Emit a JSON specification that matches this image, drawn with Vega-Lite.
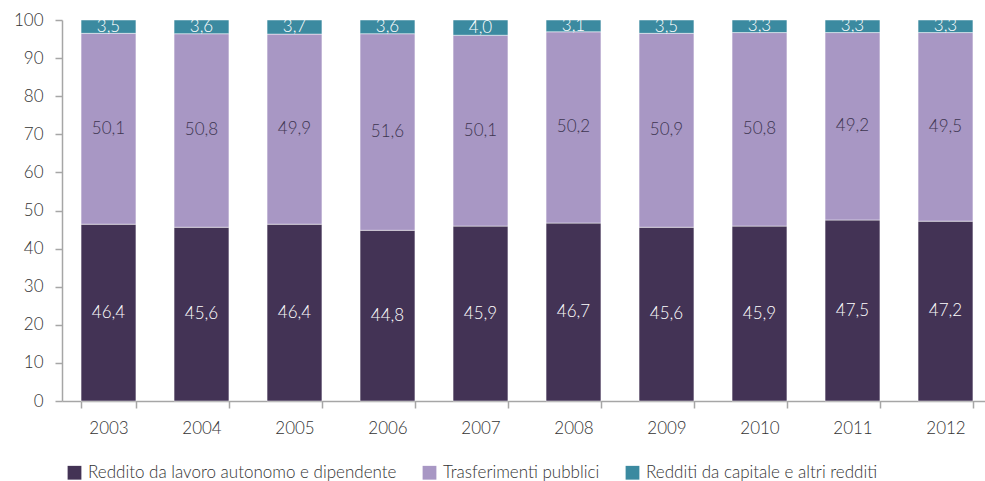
{
  "$schema": "https://vega.github.io/schema/vega-lite/v6.json",
  "width": 930,
  "height": 381,
  "autosize": {"type": "none"},
  "padding": {"left": 62, "top": 20, "right": 0, "bottom": 80},
  "config": {
    "view": {"stroke": null},
    "font": "Lato",
    "axis": {"labelFontWeight": 300},
    "axisY": {
      "title": null,
      "values": [0, 10, 20, 30, 40, 50, 60, 70, 80, 90, 100],
      "labelOverlap": false,
      "grid": false,
      "labelFontSize": 17,
      "labelColor": "#333333",
      "labelPadding": 12,
      "tickSize": 7,
      "tickColor": "#a6a6a6",
      "domainColor": "#a6a6a6",
      "tickWidth": 1.5,
      "domainWidth": 1.5
    },
    "legend": {"labelFontWeight": 300},
    "locale": {"number": {"decimal": ",", "thousands": ".", "grouping": [3], "currency": ["", " €"]}}
  },
  "data": {
    "values": [
      {"year": "2003", "series": "Reddito da lavoro autonomo e dipendente", "order": 1, "value": 46.4},
      {"year": "2003", "series": "Trasferimenti pubblici", "order": 2, "value": 50.1},
      {"year": "2003", "series": "Redditi da capitale e altri redditi", "order": 3, "value": 3.5},
      {"year": "2004", "series": "Reddito da lavoro autonomo e dipendente", "order": 1, "value": 45.6},
      {"year": "2004", "series": "Trasferimenti pubblici", "order": 2, "value": 50.8},
      {"year": "2004", "series": "Redditi da capitale e altri redditi", "order": 3, "value": 3.6},
      {"year": "2005", "series": "Reddito da lavoro autonomo e dipendente", "order": 1, "value": 46.4},
      {"year": "2005", "series": "Trasferimenti pubblici", "order": 2, "value": 49.9},
      {"year": "2005", "series": "Redditi da capitale e altri redditi", "order": 3, "value": 3.7},
      {"year": "2006", "series": "Reddito da lavoro autonomo e dipendente", "order": 1, "value": 44.8},
      {"year": "2006", "series": "Trasferimenti pubblici", "order": 2, "value": 51.6},
      {"year": "2006", "series": "Redditi da capitale e altri redditi", "order": 3, "value": 3.6},
      {"year": "2007", "series": "Reddito da lavoro autonomo e dipendente", "order": 1, "value": 45.9},
      {"year": "2007", "series": "Trasferimenti pubblici", "order": 2, "value": 50.1},
      {"year": "2007", "series": "Redditi da capitale e altri redditi", "order": 3, "value": 4.0},
      {"year": "2008", "series": "Reddito da lavoro autonomo e dipendente", "order": 1, "value": 46.7},
      {"year": "2008", "series": "Trasferimenti pubblici", "order": 2, "value": 50.2},
      {"year": "2008", "series": "Redditi da capitale e altri redditi", "order": 3, "value": 3.1},
      {"year": "2009", "series": "Reddito da lavoro autonomo e dipendente", "order": 1, "value": 45.6},
      {"year": "2009", "series": "Trasferimenti pubblici", "order": 2, "value": 50.9},
      {"year": "2009", "series": "Redditi da capitale e altri redditi", "order": 3, "value": 3.5},
      {"year": "2010", "series": "Reddito da lavoro autonomo e dipendente", "order": 1, "value": 45.9},
      {"year": "2010", "series": "Trasferimenti pubblici", "order": 2, "value": 50.8},
      {"year": "2010", "series": "Redditi da capitale e altri redditi", "order": 3, "value": 3.3},
      {"year": "2011", "series": "Reddito da lavoro autonomo e dipendente", "order": 1, "value": 47.5},
      {"year": "2011", "series": "Trasferimenti pubblici", "order": 2, "value": 49.2},
      {"year": "2011", "series": "Redditi da capitale e altri redditi", "order": 3, "value": 3.3},
      {"year": "2012", "series": "Reddito da lavoro autonomo e dipendente", "order": 1, "value": 47.2},
      {"year": "2012", "series": "Trasferimenti pubblici", "order": 2, "value": 49.5},
      {"year": "2012", "series": "Redditi da capitale e altri redditi", "order": 3, "value": 3.3}
    ]
  },
  "transform": [
    {"stack": "value", "groupby": ["year"], "sort": [{"field": "order", "order": "ascending"}], "as": ["y0", "y1"]},
    {"calculate": "(datum.y0 + datum.y1) / 2", "as": "mid"}
  ],
  "encoding": {
    "x": {
      "field": "year",
      "type": "nominal",
      "scale": {"paddingInner": 0.41, "paddingOuter": 0.205},
      "axis": {
        "title": null,
        "labelAngle": 0,
        "labelFontSize": 17,
        "labelColor": "#333333",
        "labelPadding": 12,
        "tickBand": "extent",
        "tickSize": 7,
        "tickColor": "#a6a6a6",
        "domainColor": "#a6a6a6",
        "tickWidth": 1.5,
        "domainWidth": 1.5
      }
    }
  },
  "layer": [
    {
      "mark": {"type": "bar", "stroke": "#ffffff", "strokeWidth": 0.8, "strokeOpacity": 0.6},
      "encoding": {
        "y": {
          "field": "y0",
          "type": "quantitative",
          "scale": {"domain": [0, 100], "nice": false},
          "axis": {"values": [0, 10, 20, 30, 40, 50, 60, 70, 80, 90, 100], "labelOverlap": false}
        },
        "y2": {"field": "y1"},
        "color": {
          "field": "series",
          "type": "nominal",
          "sort": ["Reddito da lavoro autonomo e dipendente", "Trasferimenti pubblici", "Redditi da capitale e altri redditi"],
          "scale": {
            "domain": ["Reddito da lavoro autonomo e dipendente", "Trasferimenti pubblici", "Redditi da capitale e altri redditi"],
            "range": ["#433355", "#a897c4", "#3b8aa0"]
          },
          "legend": {
            "title": null,
            "orient": "none",
            "direction": "horizontal",
            "legendX": 4,
            "legendY": 444,
            "symbolType": "square",
            "symbolSize": 190,
            "symbolStrokeWidth": 0,
            "labelFontSize": 17,
            "labelColor": "#333333",
            "labelOffset": 5,
            "columnPadding": 24,
            "labelLimit": 500
          }
        }
      }
    },
    {
      "mark": {"type": "text", "fontSize": 17, "fontWeight": 300, "baseline": "middle", "align": "center"},
      "encoding": {
        "y": {
          "field": "mid",
          "type": "quantitative",
          "scale": {"domain": [0, 100], "nice": false},
          "axis": {"values": [0, 10, 20, 30, 40, 50, 60, 70, 80, 90, 100], "labelOverlap": false}
        },
        "text": {"field": "value", "type": "quantitative", "format": ".1f"},
        "color": {
          "condition": {"test": "datum.series === 'Trasferimenti pubblici'", "value": "#3d3550"},
          "value": "#ffffff"
        }
      }
    }
  ]
}
